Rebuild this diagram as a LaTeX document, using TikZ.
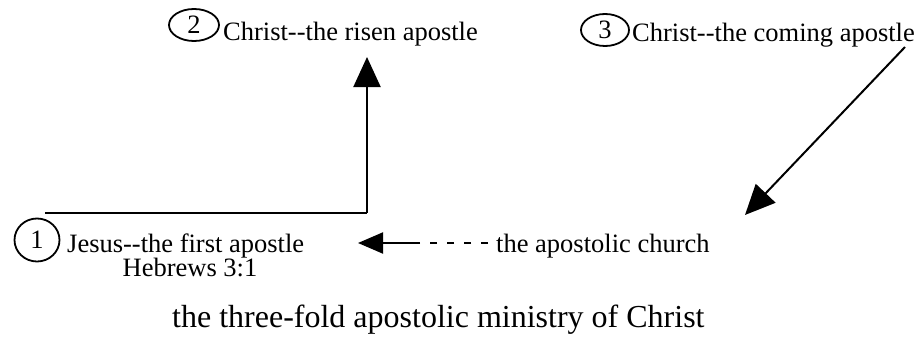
\documentclass[tikz,border=0pt]{standalone}
\usepackage{fontspec}
\setmainfont{Liberation Serif}
\usetikzlibrary{arrows.meta,shapes.geometric}
\begin{document}
\begin{tikzpicture}[x=1pt,y=-1pt,
  num/.style={draw, ellipse, line width=1.8pt, inner sep=0pt, font=\fontsize{26.5}{24}\selectfont},
  label/.style={inner sep=0pt, anchor=base west, font=\fontsize{26.5}{24}\selectfont},
  line/.style={line width=2pt},
  bigtip/.style={line width=2pt, -{Triangle[length=30pt,width=27pt]}},
  smalltip/.style={line width=2pt, -{Triangle[length=25pt,width=21pt]}},
  dashline/.style={line width=1.6pt, dash pattern=on 7pt off 10pt}]
\useasboundingbox (0,0) rectangle (921,337);
% numbered stages
\node[num, minimum width=45pt, minimum height=43pt] (one) at (37,240) {1};
\node[num, minimum width=50pt, minimum height=32pt] (two) at (194,25) {2};
\node[num, minimum width=48pt, minimum height=32pt] (three) at (605,30) {3};
\node[label] (first) at (67,252) {Jesus-{}-the first apostle};
\node[label, anchor=base] (hebrews) at (190,276) {Hebrews 3:1};
\node[label] (risen) at (223,41) {Christ-{}-the risen apostle};
\node[label] (coming) at (632,42) {Christ-{}-the coming apostle};
\node[label] (church) at (496,252) {the apostolic church};
\node[inner sep=0pt, anchor=base west, font=\fontsize{32}{34}\selectfont] (caption) at (172,327) {the three-fold apostolic ministry of Christ};
% connectors
\coordinate (start) at (45,213);
\coordinate (corner) at (367,213);
\coordinate (risentip) at (367,57);
\coordinate (comefrom) at (905,47);
\coordinate (cometip) at (745,215);
\coordinate (churchend) at (488,243);
\coordinate (solidend) at (414,243);
\coordinate (churchtip) at (358,243);
\draw[line] (start) -- (corner);
\draw[bigtip] (corner) -- (risentip);
\draw[bigtip] (comefrom) -- (cometip);
\draw[dashline] (churchend) -- (solidend);
\draw[smalltip] (solidend) -- (churchtip);
\end{tikzpicture}
\end{document}
